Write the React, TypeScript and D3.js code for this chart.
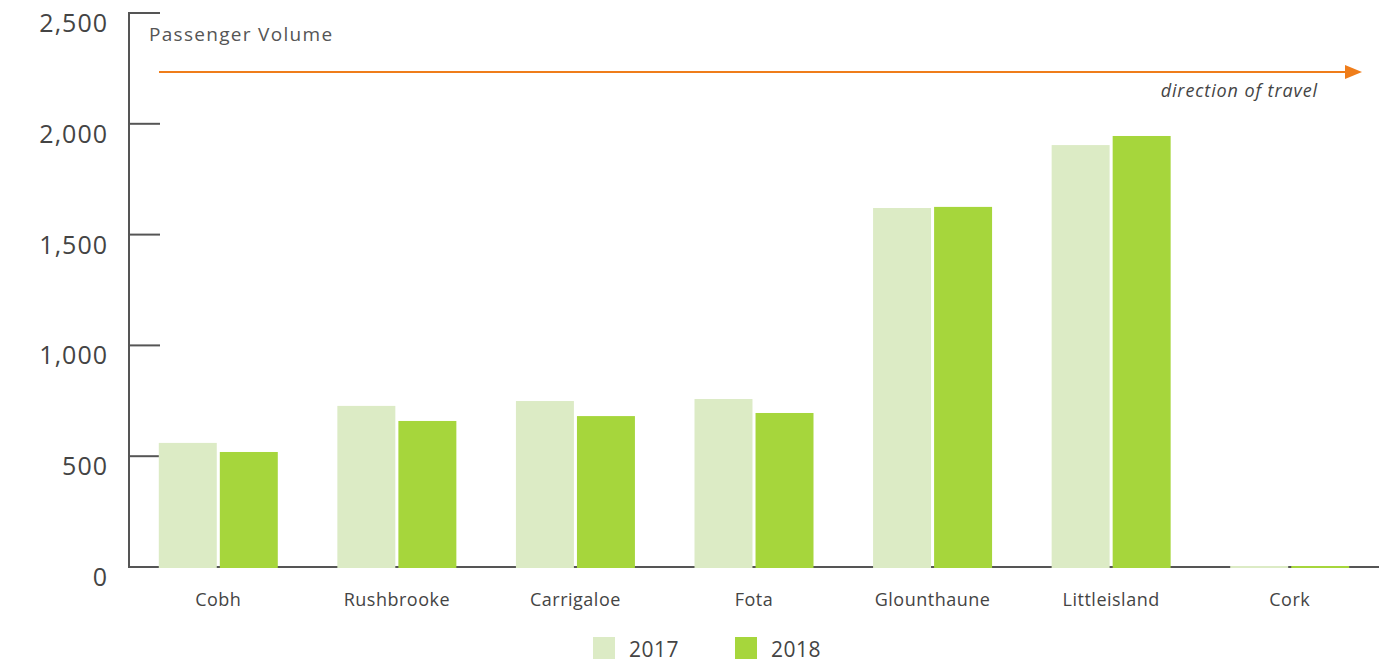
import React, { useRef, useEffect } from 'react';
import * as d3 from 'd3';

const stations = ['Cobh', 'Rushbrooke', 'Carrigaloe', 'Fota', 'Glounthaune', 'Littleisland', 'Cork'];
const years = ['2017', '2018'];
const values2017 = [560, 727, 749, 758, 1620, 1904, 0];
const values2018 = [519, 659, 681, 695, 1625, 1945, 0];
const yTicks = [0, 500, 1000, 1500, 2000, 2500];
const colors = ['#dcebc5', '#a6d63c'];

const App = () => {
  const svgRef = useRef<SVGSVGElement>(null);

  useEffect(() => {
    const svg = d3.select(svgRef.current);
    svg.selectAll('*').remove();
    const font = '"Open Sans", Lato, sans-serif';

    const x0 = 129, x1 = 1379, yTop = 13, yBottom = 567;

    const x = d3.scaleBand().domain(stations).range([x0, x1]).paddingInner(0).paddingOuter(0);
    const xInner = d3.scaleBand().domain(years).range([0, 119]).paddingInner(0.05);
    const y = d3.scaleLinear().domain([0, 2500]).range([yBottom, yTop]);

    // y axis line and ticks
    svg.append('line')
      .attr('x1', x0).attr('x2', x0).attr('y1', y(2500) - 1).attr('y2', yBottom + 1)
      .attr('stroke', '#555').attr('stroke-width', 2);
    svg.append('g').selectAll('line').data(yTicks.filter((d) => d > 0)).enter().append('line')
      .attr('x1', x0).attr('x2', x0 + 31)
      .attr('y1', (d) => y(d)).attr('y2', (d) => y(d))
      .attr('stroke', '#555').attr('stroke-width', 2);
    svg.append('g').selectAll('text').data(yTicks).enter().append('text')
      .attr('x', 108).attr('y', (d) => y(d) + 19)
      .attr('text-anchor', 'end')
      .attr('font-family', font).attr('font-size', 25)
      .attr('letter-spacing', 1)
      .attr('fill', '#444')
      .text((d) => d3.format(',')(d));

    // baseline
    svg.append('line')
      .attr('x1', x0).attr('x2', x1).attr('y1', yBottom).attr('y2', yBottom)
      .attr('stroke', '#555').attr('stroke-width', 2);

    // bars
    const series = [values2017, values2018];
    const groups = svg.append('g').selectAll('g').data(stations).enter().append('g')
      .attr('transform', (d) => `translate(${(x(d) as number) + (x.bandwidth() - 119) / 2},0)`);
    groups.selectAll('rect')
      .data((d, i) => years.map((yr, k) => ({ yr, k, v: series[k][i] })))
      .enter().append('rect')
      .attr('x', (d) => xInner(d.yr) as number)
      .attr('y', (d) => Math.min(y(d.v), yBottom - 1))
      .attr('width', xInner.bandwidth())
      .attr('height', (d) => Math.max(yBottom - y(d.v), 1) + 1)
      .attr('fill', (d) => colors[d.k]);

    // category labels
    svg.append('g').selectAll('text').data(stations).enter().append('text')
      .attr('x', (d) => (x(d) as number) + x.bandwidth() / 2)
      .attr('y', 606)
      .attr('text-anchor', 'middle')
      .attr('font-family', font).attr('font-size', 18)
      .attr('letter-spacing', 0.5)
      .attr('fill', '#444')
      .text((d) => d);

    // title
    svg.append('text')
      .attr('x', 149).attr('y', 41)
      .attr('font-family', font).attr('font-size', 19)
      .attr('letter-spacing', 1.3)
      .attr('fill', '#555')
      .text('Passenger Volume');

    // direction arrow
    svg.append('line')
      .attr('x1', 159).attr('x2', 1348).attr('y1', 72).attr('y2', 72)
      .attr('stroke', '#ef7d1a').attr('stroke-width', 2);
    svg.append('path')
      .attr('d', 'M1345,65 L1362,72 L1345,79 Z')
      .attr('fill', '#ef7d1a');
    svg.append('text')
      .attr('x', 1318).attr('y', 97)
      .attr('text-anchor', 'end')
      .attr('font-family', font).attr('font-size', 18)
      .attr('font-style', 'italic')
      .attr('letter-spacing', 0.9)
      .attr('fill', '#444')
      .text('direction of travel');

    // legend
    const legend = svg.append('g').selectAll('g').data(years).enter().append('g')
      .attr('transform', (d, i) => `translate(${593 + i * 142},637)`);
    legend.append('rect')
      .attr('width', 22).attr('height', 22)
      .attr('fill', (d, i) => colors[i]);
    legend.append('text')
      .attr('x', 36).attr('y', 20)
      .attr('font-family', font).attr('font-size', 21)
      .attr('letter-spacing', 0.5)
      .attr('fill', '#444')
      .text((d) => d);
  }, []);

  return (
    <svg ref={svgRef} width={1396} height={665} style={{ position: 'absolute', left: 0, top: 0 }}></svg>
  );
};

export default App;
